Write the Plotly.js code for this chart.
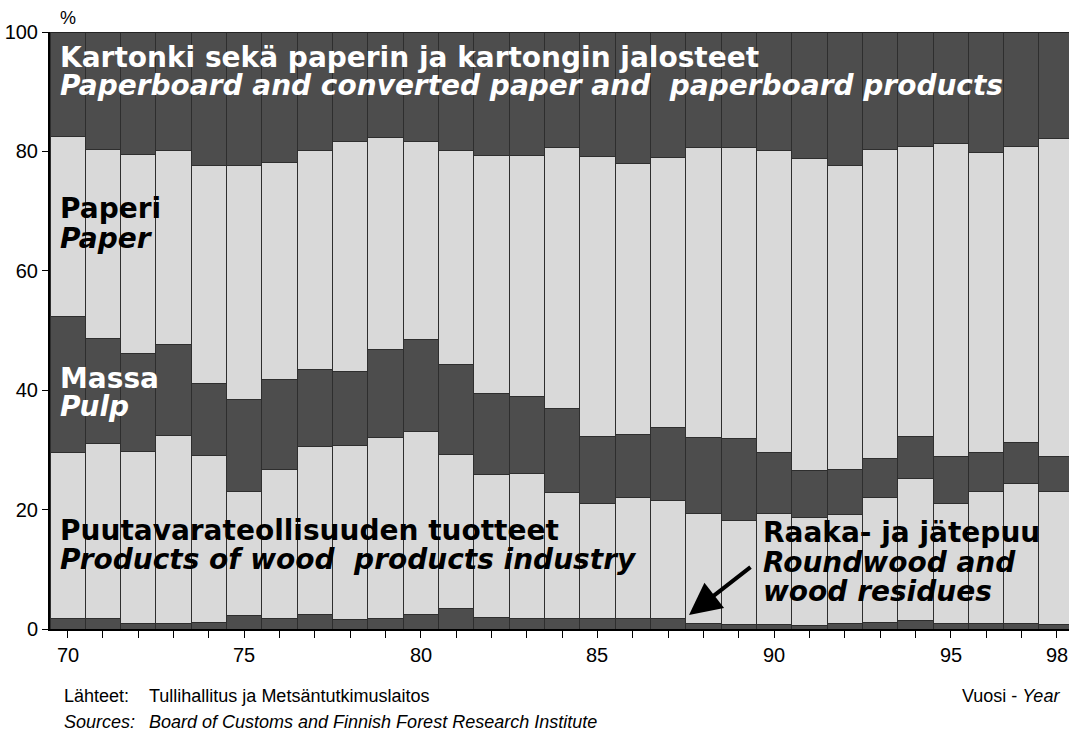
<!DOCTYPE html>
<html>
<head>
<meta charset="utf-8">
<script src="https://cdn.plot.ly/plotly-3.0.1.min.js"></script>
<style>
  html, body { margin: 0; padding: 0; background: #ffffff; }
  #chart { width: 1069px; height: 735px; }
</style>
</head>
<body>
<div id="chart"></div>
<script>
const years = [1970,1971,1972,1973,1974,1975,1976,1977,1978,1979,1980,1981,1982,1983,1984,1985,1986,1987,1988,1989,1990,1991,1992,1993,1994,1995,1996,1997,1998];
const labelYears = [1970,1975,1980,1985,1990,1995,1998];
const labelTexts = ['70','75','80','85','90','95','98'];

// Shares, % of export value
const roundwood = [1.7,1.7,1.0,0.9,1.1,2.2,1.7,2.5,1.6,1.7,2.5,3.4,2.0,1.7,1.7,1.8,1.8,1.7,0.9,0.8,0.7,0.6,0.9,1.1,1.4,0.9,0.9,0.9,0.8];
const woodProducts = [27.9,29.3,28.7,31.5,27.9,20.8,25.0,28.1,29.2,30.3,30.6,25.8,23.9,24.3,21.2,19.2,20.2,19.9,18.5,17.4,18.7,18.0,18.2,20.9,23.8,20.1,22.1,23.5,22.2];
const pulp = [22.8,17.6,16.4,15.2,12.2,15.5,15.1,12.8,12.4,14.9,15.4,15.1,13.6,13.0,14.1,11.2,10.6,12.1,12.6,13.7,10.2,7.9,7.6,6.6,7.1,7.9,6.5,6.8,5.9];
const paper = [30.1,31.8,33.4,32.5,36.5,39.1,36.4,36.8,38.4,35.5,33.2,35.9,39.8,40.3,43.6,47.0,45.3,45.2,48.7,48.7,50.5,52.3,51.0,51.7,48.6,52.4,50.4,49.6,53.3];
const paperboard = [17.5,19.6,20.5,19.9,22.3,22.4,21.8,19.8,18.4,17.6,18.3,19.8,20.7,20.7,19.4,20.8,22.1,21.1,19.3,19.4,19.9,21.2,22.3,19.7,19.1,18.7,20.1,19.2,17.8];

const DARK = '#4d4d4d';
const LIGHT = '#d9d9d9';
const EDGE = '#2e2e2e';

function mk(name, vals, color) {
  return {
    type: 'bar', name: name, x: years, y: vals,
    marker: { color: color, line: { color: EDGE, width: 1 } },
    hoverinfo: 'x+y+name'
  };
}

const data = [
  mk('Raaka- ja jätepuu', roundwood, DARK),
  mk('Puutavarateollisuuden tuotteet', woodProducts, LIGHT),
  mk('Massa', pulp, DARK),
  mk('Paperi', paper, LIGHT),
  mk('Kartonki sekä paperin ja kartongin jalosteet', paperboard, DARK)
];

const BIG = 'DejaVu Sans, Arial Black, sans-serif';
const NARROW = 'Liberation Sans, Arial, sans-serif';

function lab(text, xpx, ypx, color, italic) {
  return {
    xref: 'paper', yref: 'paper',
    x: (xpx - 50) / 1019, y: (629 - ypx) / 597,
    xanchor: 'left', yanchor: 'middle',
    text: italic ? '<b><i>' + text + '</i></b>' : '<b>' + text + '</b>',
    showarrow: false,
    font: { family: BIG, size: 28, color: color }
  };
}

function foot(text, xpx, ypx, anchor) {
  return {
    xref: 'paper', yref: 'paper', x: (xpx - 50) / 1019, y: (629 - ypx) / 597,
    xanchor: anchor || 'left', yanchor: 'middle', showarrow: false,
    text: text, font: { family: NARROW, size: 18, color: '#000' }
  };
}

const annotations = [
  lab('Kartonki sekä paperin ja kartongin jalosteet', 58, 57, '#ffffff', false),
  lab('Paperboard and converted paper and  paperboard products', 58, 85, '#ffffff', true),
  lab('Paperi', 58, 209, '#000000', false),
  lab('Paper', 58, 238, '#000000', true),
  lab('Massa', 58, 378, '#ffffff', false),
  lab('Pulp', 58, 407, '#ffffff', true),
  lab('Puutavarateollisuuden tuotteet', 58, 530, '#000000', false),
  lab('Products of wood  products industry', 58, 559, '#000000', true),
  lab('Raaka- ja jätepuu', 761, 532, '#000000', false),
  lab('Roundwood and', 761, 562, '#000000', true),
  lab('wood residues', 761, 591, '#000000', true),
  {
    xref: 'paper', yref: 'paper',
    x: (689 - 50) / 1019, y: (629 - 615) / 597,
    ax: 63, ay: -49, axref: 'pixel', ayref: 'pixel',
    showarrow: true, arrowhead: 2, arrowsize: 1.6, arrowwidth: 4, arrowcolor: '#000000',
    text: ''
  },
  foot('%', 58, 18),
  foot('Lähteet:', 62, 696),
  foot('Tullihallitus ja Metsäntutkimuslaitos', 147, 696),
  foot('<i>Sources:</i>', 62, 722),
  foot('<i>Board of Customs and Finnish Forest Research Institute</i>', 147, 722),
  foot('Vuosi - <i>Year</i>', 1062, 696, 'right')
];

// x-axis year labels, positioned on the x scale
labelYears.forEach((yr, i) => {
  annotations.push({
    xref: 'x', yref: 'paper', x: yr, y: (629 - 655) / 597,
    xanchor: 'center', yanchor: 'middle', showarrow: false,
    text: labelTexts[i], font: { family: NARROW, size: 20, color: '#000' }
  });
});

const layout = {
  width: 1069, height: 735,
  margin: { l: 50, r: 0, t: 32, b: 106, pad: 0 },
  paper_bgcolor: '#ffffff', plot_bgcolor: '#ffffff',
  barmode: 'stack', bargap: 0,
  showlegend: false,
  xaxis: {
    range: [1969.5, 1998.35],
    tickmode: 'array', tickvals: years,
    showticklabels: false,
    ticks: 'outside', ticklen: 7, tickwidth: 1, tickcolor: '#000',
    showline: true, linecolor: '#000', linewidth: 2,
    showgrid: false, zeroline: false
  },
  yaxis: {
    range: [0, 100], tickvals: [0,20,40,60,80,100],
    ticks: 'outside', ticklen: 6, tickwidth: 1, tickcolor: '#000',
    showline: true, linecolor: '#000', linewidth: 2,
    showgrid: false, zeroline: false,
    tickfont: { family: NARROW, size: 20, color: '#000' }
  },
  shapes: [
    { type: 'line', xref: 'paper', yref: 'y', x0: 0, x1: 1, y0: 100, y1: 100,
      line: { color: '#222', width: 1.5 } }
  ],
  annotations: annotations
};

Plotly.newPlot('chart', data, layout, { displayModeBar: false, staticPlot: true });
</script>
</body>
</html>
